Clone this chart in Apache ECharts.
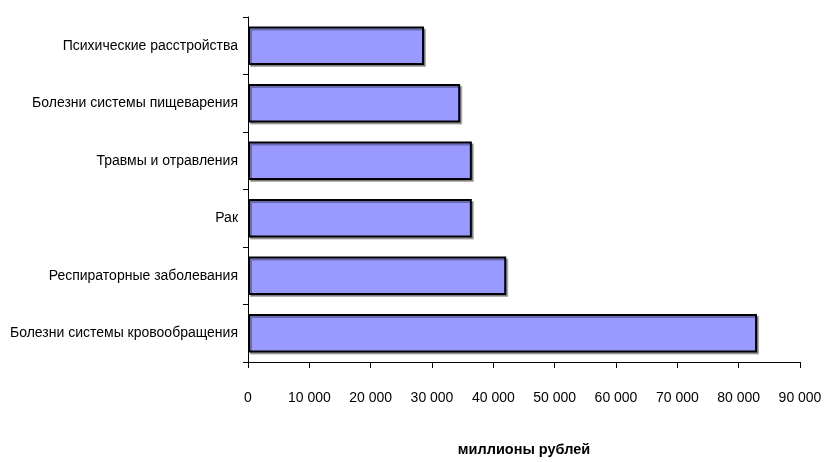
<!DOCTYPE html>
<html>
<head>
<meta charset="utf-8">
<script src="https://cdn.jsdelivr.net/npm/echarts@6/dist/echarts.min.js"></script>
<style>html,body{margin:0;padding:0;background:#fff}#c{width:824px;height:462px}</style>
</head>
<body>
<div id="c"></div>
<script>
const categories = [
  "Психические расстройства",
  "Болезни системы пищеварения",
  "Травмы и отравления",
  "Рак",
  "Респираторные заболевания",
  "Болезни системы кровообращения"
];
const values = [28700, 34600, 36500, 36500, 42100, 83000];
const axisName = "миллионы рублей";

const chart = echarts.init(document.getElementById('c'));
const font = "'Liberation Sans', Arial, sans-serif";
chart.setOption({
  animation: false,
  grid: {left: 248, right: 24, top: 17, bottom: 100, containLabel: false, outerBoundsMode: 'none'},
  xAxis: {
    type: 'value', min: 0, max: 90000, interval: 10000,
    name: axisName, nameLocation: 'middle', nameGap: 80,
    nameTextStyle: {fontFamily: font, fontSize: 14.5, fontWeight: 'bold', color: '#000'},
    axisLine: {show: true, lineStyle: {color: '#000', width: 1}},
    axisTick: {show: true, length: 6, lineStyle: {color: '#000'}},
    splitLine: {show: false},
    axisLabel: {
      margin: 29, color: '#000', fontFamily: font, fontSize: 14,
      formatter: v => String(v).replace(/\B(?=(\d{3})+(?!\d))/g, ' ')
    }
  },
  yAxis: {
    type: 'category', data: categories, inverse: true,
    axisLine: {show: true, lineStyle: {color: '#000', width: 1}},
    axisTick: {show: true, length: 5, lineStyle: {color: '#000'}},
    axisLabel: {margin: 10, color: '#000', fontFamily: font, fontSize: 14}
  },
  series: [{
    type: 'bar', data: values, barCategoryGap: '33%',
    itemStyle: {
      color: '#9999FF', borderColor: '#000', borderWidth: 2,
      shadowColor: 'rgba(0,0,0,0.3)', shadowOffsetX: 2, shadowOffsetY: 2, shadowBlur: 0
    }
  }]
});
</script>
</body>
</html>
